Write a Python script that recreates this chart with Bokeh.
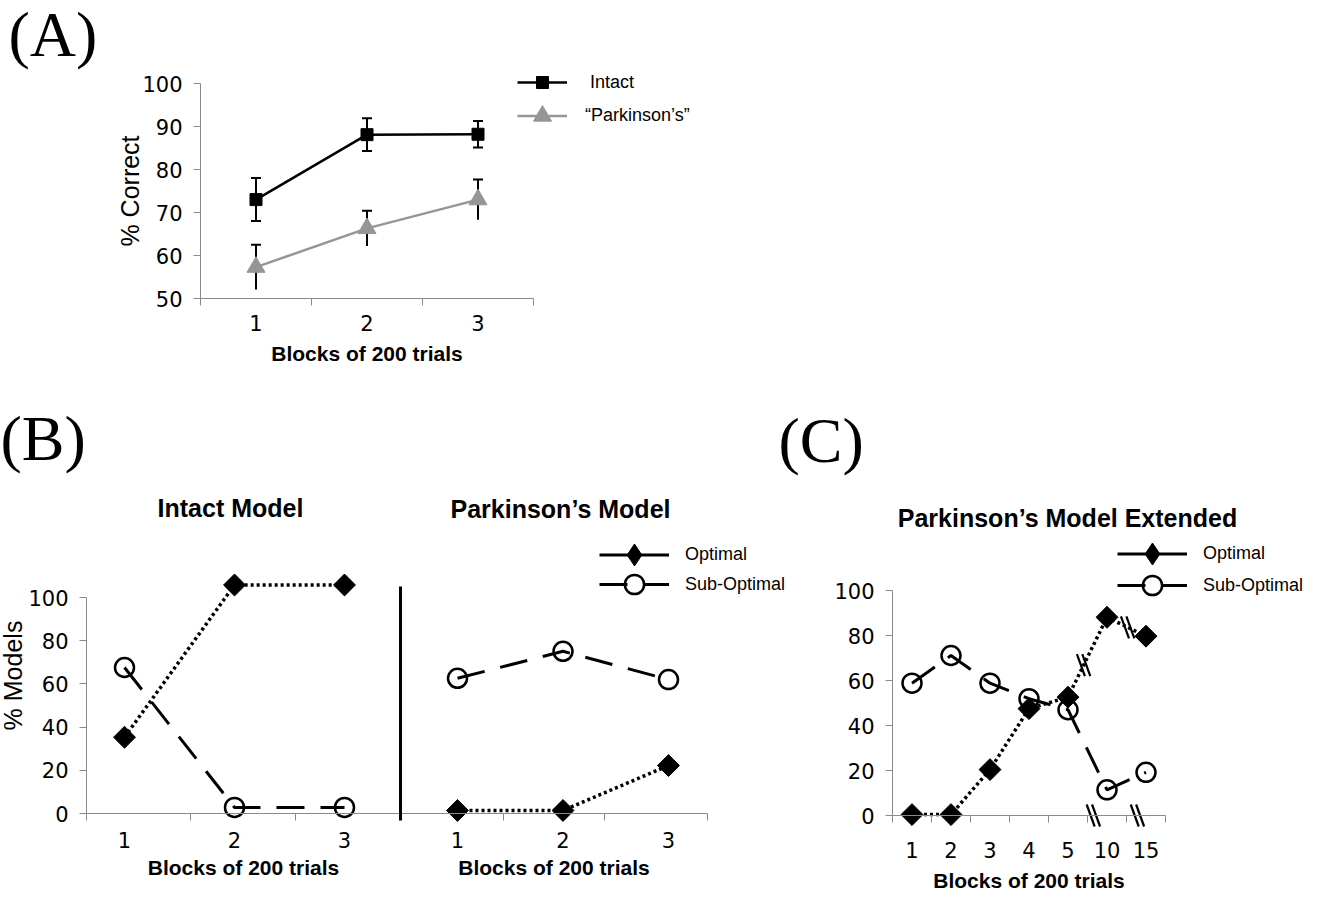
import numpy as np
from bokeh.plotting import figure
from bokeh.models import (Range1d, LinearAxis, FixedTicker, Whisker, TeeHead,
                          ColumnDataSource, Legend, LegendItem, Label)
from bokeh.layouts import column, row
from bokeh.embed import file_html
from bokeh.resources import INLINE

# ---------------- data ----------------
a_blocks = [1, 2, 3]
a_intact = [73.0, 88.1, 88.2]
a_intact_err = [5.0, 3.8, 3.1]
a_parkinsons = [57.3, 66.3, 73.0]
a_parkinsons_err = [5.2, 4.1, 4.7]
a_yticks = [50, 60, 70, 80, 90, 100]

b_blocks = [1, 2, 3]
b_intact_optimal = [35.3, 105.8, 105.8]
b_intact_suboptimal = [67.6, 2.8, 2.8]
b_park_optimal = [1.4, 1.4, 22.2]
b_park_suboptimal = [62.6, 75.1, 62.0]
b_yticks = [0, 20, 40, 60, 80, 100]

c_block_labels = ["1", "2", "3", "4", "5", "10", "15"]
c_optimal = [0.4, 0.4, 20.4, 47.5, 52.6, 88.1, 79.7]
c_suboptimal = [58.8, 71.1, 58.8, 51.9, 47.0, 11.4, 19.2]
c_yticks = [0, 20, 40, 60, 80, 100]

# ---------------- styles ----------------
TICK_FONT = "DejaVu Sans"
SANS = "Liberation Sans"
SERIF = "Liberation Serif"
AXIS_GRAY = "#8a8a8a"
PARK_GRAY = "#969696"
DOT = "3 3"
DASH = "28 16"


def xr(val, px, ppu, width):
    s = val - px / ppu
    return Range1d(s, s + width / ppu)


def yr(val, py, ppu, height):
    t = val + py / ppu
    return Range1d(t - height / ppu, t)


def make_fig(w, h, x_range, y_range):
    # the frame fills the whole canvas; axes are placed with fixed_location
    p = figure(width=w, height=h, x_range=x_range, y_range=y_range, title=None,
               min_border=0, min_border_left=0, min_border_right=0,
               min_border_top=0, min_border_bottom=0,
               x_axis_location=None, y_axis_location=None,
               toolbar_location=None, output_backend="svg")
    p.outline_line_color = None
    p.grid.visible = False
    p.background_fill_color = "white"
    p.border_fill_color = "white"
    return p


def style_axis(ax):
    ax.axis_line_color = AXIS_GRAY
    ax.axis_line_width = 1
    ax.major_tick_line_color = AXIS_GRAY
    ax.minor_tick_line_color = AXIS_GRAY
    ax.major_label_text_font = TICK_FONT
    ax.major_label_text_font_size = "21px"
    ax.major_label_text_color = "black"
    ax.axis_label_text_font = SANS
    ax.axis_label_text_font_style = "bold"
    ax.axis_label_text_font_size = "21px"
    ax.axis_label_text_color = "black"
    return ax


def y_axis(ticks, at, bounds, label=None):
    ax = LinearAxis(ticker=FixedTicker(ticks=ticks, minor_ticks=[]), bounds=bounds,
                    fixed_location=at,
                    major_tick_out=7, major_tick_in=0, minor_tick_out=0, minor_tick_in=0,
                    major_label_standoff=11)
    style_axis(ax)
    if label:
        ax.axis_label = label
        ax.axis_label_text_font_style = "normal"
        ax.axis_label_text_font_size = "25px"
        ax.axis_label_standoff = -5
    return ax


def x_axis(ticks, minor, at, bounds, standoff, label_standoff, overrides=None, **kw):
    ax = LinearAxis(ticker=FixedTicker(ticks=ticks, minor_ticks=minor), bounds=bounds,
                    fixed_location=at,
                    major_tick_out=0, major_tick_in=0, minor_tick_out=7, minor_tick_in=0,
                    major_label_standoff=standoff, axis_label="Blocks of 200 trials",
                    axis_label_standoff=label_standoff, **kw)
    if overrides:
        ax.major_label_overrides = overrides
    style_axis(ax)
    return ax


def legend(item_label, renderers, x, yc, gw, gh, standoff):
    # (x, y) is the bottom-left corner of the legend, y measured from the bottom
    return Legend(items=[LegendItem(label=item_label, renderers=renderers)],
                  location=(x, yc - gh / 2), glyph_width=gw, glyph_height=gh,
                  label_height=gh, label_standoff=standoff,
                  padding=0, margin=0, spacing=0, border_line_alpha=0,
                  background_fill_alpha=0, label_text_font=SANS,
                  label_text_font_size="18px", label_text_color="black")


def text_label(p, x, y, text, font, size, style="normal", align="center",
               baseline="middle", angle=0.0):
    p.add_layout(Label(x=x, y=y, x_units="screen", y_units="screen", text=text,
                       text_font=font, text_font_size=size, text_font_style=style,
                       text_align=align, text_baseline=baseline, angle=angle,
                       text_color="black"))


# ======================= Panel A (top, full width) =======================
A_W, A_H = 1319, 488
p_a = make_fig(A_W, A_H, xr(0.5, 200, 111, A_W), yr(100, 83, 4.3, A_H))
a_x0, a_x1 = a_blocks[0] - 0.5, a_blocks[-1] + 0.5
p_a.add_layout(y_axis(a_yticks, a_x0, (a_yticks[0], a_yticks[-1]), label="% Correct"), "left")
a_bounds = [b - 0.5 for b in a_blocks] + [a_x1]
p_a.add_layout(x_axis(a_blocks, a_bounds, a_yticks[0], (a_x0, a_x1), 9, 8), "below")

src_i = ColumnDataSource(dict(x=a_blocks,
                              upper=[v + e for v, e in zip(a_intact, a_intact_err)],
                              lower=[v - e for v, e in zip(a_intact, a_intact_err)]))
src_p = ColumnDataSource(dict(x=a_blocks,
                              upper=[v + e for v, e in zip(a_parkinsons, a_parkinsons_err)],
                              lower=[v - e for v, e in zip(a_parkinsons, a_parkinsons_err)]))
p_a.add_layout(Whisker(source=src_i, base="x", upper="upper", lower="lower",
                       dimension="height", line_color="black", line_width=2,
                       upper_head=TeeHead(size=10, line_width=2, line_color="black"),
                       lower_head=TeeHead(size=10, line_width=2, line_color="black")))
p_a.add_layout(Whisker(source=src_p, base="x", upper="upper", lower="lower",
                       dimension="height", line_color="black", line_width=2,
                       upper_head=TeeHead(size=10, line_width=2, line_color="black"),
                       lower_head=None))

li = p_a.line(a_blocks, a_intact, line_color="black", line_width=2.5)
si = p_a.scatter(a_blocks, a_intact, marker="square", size=12, color="black")
lp = p_a.line(a_blocks, a_parkinsons, line_color=PARK_GRAY, line_width=2.5)
sp = p_a.scatter(a_blocks, a_parkinsons, marker="triangle", size=18, color=PARK_GRAY)

p_a.add_layout(legend("Intact", [li, si], 517, A_H - 82, 50, 30, 23))
p_a.add_layout(legend("\u201cParkinson\u2019s\u201d", [lp, sp], 517, A_H - 115, 50, 45, 18))

text_label(p_a, 8, A_H + 2, "(A)", SERIF, "64px", align="left", baseline="top")
text_label(p_a, 0, A_H - 402, "(B)", SERIF, "64px", align="left", baseline="top")
text_label(p_a, 778, A_H - 404, "(C)", SERIF, "64px", align="left", baseline="top")

# ======================= Panel B (bottom left) =======================
B_W, B_H, ROW_TOP = 802, 408, 488
p_b = make_fig(B_W, B_H, xr(1, 124, 110, B_W), yr(0, 813 - ROW_TOP, 2.16, B_H))
p_b.extra_x_ranges = {"right": xr(1, 457, 105.5, B_W)}

BL_X0 = 1 - (124 - 86) / 110      # left end of the Intact-model axis
BL_X1 = 1 + (400 - 124) / 110     # divider position
BR_X0 = 1 - (457 - 400) / 105.5
BR_X1 = 1 + (707 - 457) / 105.5

p_b.add_layout(y_axis(b_yticks, BL_X0, (b_yticks[0], b_yticks[-1])), "left")
p_b.add_layout(x_axis(b_blocks, [BL_X0, 1.6, 2.555], 0, (BL_X0, BL_X1), 11, 5), "below")
p_b.add_layout(x_axis(b_blocks, [1.436, 2.393, BR_X1], 0, (BR_X0, BR_X1), 11, 5,
                      x_range_name="right"), "below")
sep = LinearAxis(fixed_location=BL_X1, bounds=(-3.2, 105),
                 ticker=FixedTicker(ticks=[], minor_ticks=[]),
                 axis_line_width=3, axis_line_color="black",
                 major_tick_out=0, major_tick_in=0, minor_tick_out=0, minor_tick_in=0)
p_b.add_layout(sep, "left")

# Intact model
p_b.line(b_blocks, b_intact_optimal, line_color="black", line_width=3.5, line_dash=DOT)
p_b.line(b_blocks, b_intact_suboptimal, line_color="black", line_width=3, line_dash=DASH)
p_b.scatter(b_blocks, b_intact_optimal, marker="square", angle=np.pi / 4, size=15.5,
            color="black")
p_b.scatter(b_blocks, b_intact_suboptimal, marker="circle", size=19, fill_color=None,
            line_color="black", line_width=2.5)

# Parkinson's model
p_b.line(b_blocks, b_park_optimal, line_color="black", line_width=3.5, line_dash=DOT,
         x_range_name="right")
sub_line_b = p_b.line(b_blocks, b_park_suboptimal, line_color="black", line_width=3,
                      line_dash=DASH, x_range_name="right")
p_b.scatter(b_blocks, b_park_optimal, marker="square", angle=np.pi / 4, size=15.5,
            color="black", x_range_name="right")
sub_mark_b = p_b.scatter(b_blocks, b_park_suboptimal, marker="circle", size=19,
                         fill_color=None, line_color="black", line_width=2.5,
                         x_range_name="right")
# legend key for "Optimal" is drawn solid in the original: hidden solid-style twins
opt_key_line_b = p_b.line(b_blocks, b_park_optimal, line_color="black", line_width=3,
                          x_range_name="right", visible=False)
opt_key_mark_b = p_b.scatter(b_blocks, b_park_optimal, marker="diamond", size=22,
                             color="black", x_range_name="right", visible=False)

p_b.add_layout(legend("Optimal", [opt_key_line_b, opt_key_mark_b], 599,
                      B_H - (554 - ROW_TOP), 70, 55, 16))
p_b.add_layout(legend("Sub-Optimal", [sub_line_b, sub_mark_b], 599,
                      B_H - (584 - ROW_TOP), 70, 48, 16))

text_label(p_b, 230, B_H - (507 - ROW_TOP), "Intact Model", SANS, "25px", style="bold")
text_label(p_b, 560, B_H - (508 - ROW_TOP), "Parkinson\u2019s Model", SANS, "25px", style="bold")
text_label(p_b, -2, B_H - (675 - ROW_TOP), "% Models", SANS, "25px", baseline="top",
           angle=np.pi / 2)

# ======================= Panel C (bottom right) =======================
C_W, C_H, C_LEFT = 517, 408, 802
C_PPU_X, C_PPU_Y = 39, 2.25
c_x = list(range(1, len(c_block_labels) + 1))
p_c = make_fig(C_W, C_H, xr(0.5, 892 - C_LEFT, C_PPU_X, C_W),
               yr(0, 815 - ROW_TOP, C_PPU_Y, C_H))
c_x0, c_x1 = c_x[0] - 0.5, c_x[-1] + 0.5
p_c.add_layout(y_axis(c_yticks, c_x0, (c_yticks[0], c_yticks[-1])), "left")
c_bounds = [x - 0.5 for x in c_x] + [c_x1]
p_c.add_layout(x_axis(c_x, c_bounds, 0, (c_x0, c_x1), 19, 8,
                      overrides={x: lab for x, lab in zip(c_x, c_block_labels)}), "below")

p_c.line(c_x, c_optimal, line_color="black", line_width=3.5, line_dash=DOT)
sub_line_c = p_c.line(c_x, c_suboptimal, line_color="black", line_width=3, line_dash=DASH)
p_c.scatter(c_x, c_optimal, marker="square", angle=np.pi / 4, size=15.5, color="black")
sub_mark_c = p_c.scatter(c_x, c_suboptimal, marker="circle", size=19, fill_color=None,
                         line_color="black", line_width=2.5)

# "\\" break marks: on the optimal line between 5-10 and 10-15, and on the x axis
brk_t = [0.40, 0.53]
brk_i = [4, 5]
brk_x = [c_x[i] + t * (c_x[i + 1] - c_x[i]) for i, t in zip(brk_i, brk_t)]
brk_y = [c_optimal[i] + t * (c_optimal[i + 1] - c_optimal[i]) for i, t in zip(brk_i, brk_t)]
axis_brk_x = [5.65, 6.78]
axis_brk_y = [0, 0]
half_dx, half_dy, gap = 4 / C_PPU_X, 11 / C_PPU_Y, 2.7 / C_PPU_X
mx = [x + g for x in brk_x + axis_brk_x for g in (-gap, gap)]
my = [y for y in brk_y + axis_brk_y for _ in (0, 1)]
p_c.segment(x0=[x - half_dx for x in mx], y0=[y + half_dy for y in my],
            x1=[x + half_dx for x in mx], y1=[y - half_dy for y in my],
            line_color="black", line_width=2.2)

opt_key_line_c = p_c.line(c_x, c_optimal, line_color="black", line_width=3, visible=False)
opt_key_mark_c = p_c.scatter(c_x, c_optimal, marker="diamond", size=22, color="black",
                             visible=False)
p_c.add_layout(legend("Optimal", [opt_key_line_c, opt_key_mark_c], 1117 - C_LEFT,
                      C_H - (553 - ROW_TOP), 70, 55, 16))
p_c.add_layout(legend("Sub-Optimal", [sub_line_c, sub_mark_c], 1117 - C_LEFT,
                      C_H - (585 - ROW_TOP), 70, 48, 16))
text_label(p_c, 1067 - C_LEFT, C_H - (517 - ROW_TOP), "Parkinson\u2019s Model Extended",
           SANS, "25px", style="bold")

layout = column(p_a, row(p_b, p_c))

with open("out.html", "w") as f:
    f.write(file_html(layout, INLINE))
